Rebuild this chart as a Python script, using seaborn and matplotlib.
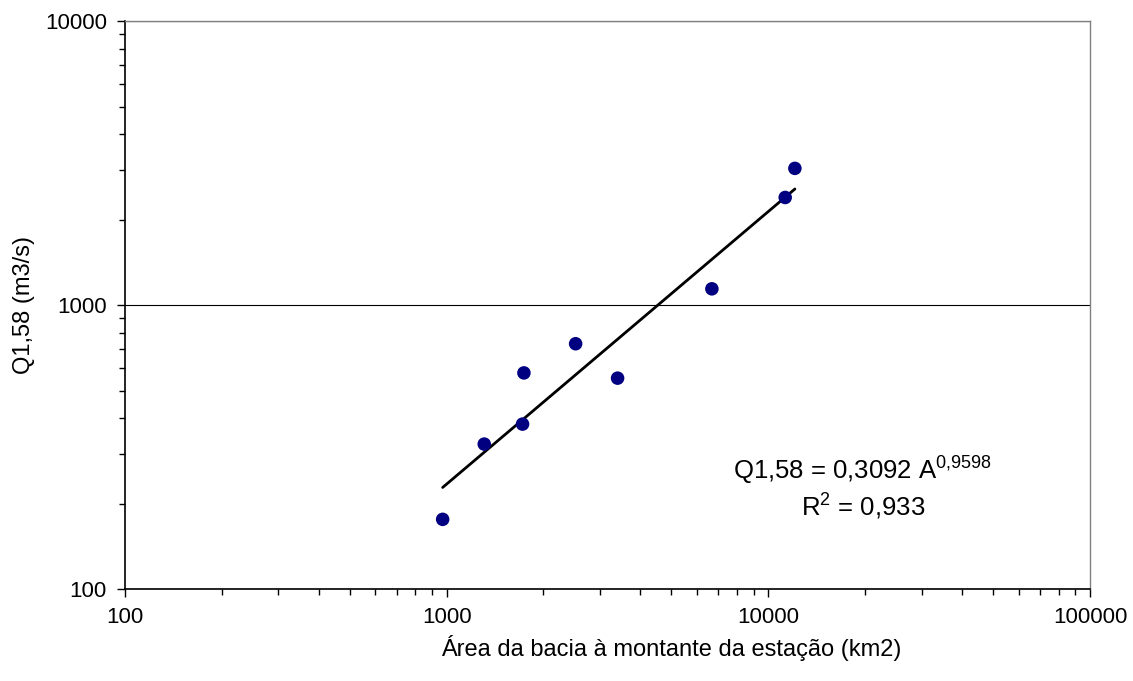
import matplotlib
matplotlib.use("Agg")
import matplotlib.pyplot as plt
import seaborn as sns
import numpy as np
import pandas as pd

# Drainage area (km2) and Q1,58 discharge (m3/s)
area = [972, 1309, 1722, 1739, 2518, 3400, 6678, 11287, 12097]
q158 = [176, 324, 381, 577, 731, 553, 1141, 2393, 3030]

# Power-law fit shown on the chart
coef = 0.3092
expo = 0.9598
r2 = 0.933

sns.set_style("ticks")
plt.rcParams['font.family'] = ['Liberation Sans', 'DejaVu Sans']
plt.rcParams['mathtext.fontset'] = 'custom'
plt.rcParams['mathtext.rm'] = 'Liberation Sans'
plt.rcParams['text.color'] = 'black'
plt.rcParams['axes.labelcolor'] = 'black'
plt.rcParams['xtick.color'] = 'black'
plt.rcParams['ytick.color'] = 'black'

df = pd.DataFrame({'area': area, 'q': q158})
fit_x = np.linspace(min(area), max(area), 50)
fit = pd.DataFrame({'area': fit_x, 'q': coef * fit_x ** expo})

fig = plt.figure(figsize=(11.33, 6.81), dpi=100)
ax = fig.add_axes([0.1103, 0.135, 0.8517, 0.834])

ax.set_xscale('log')
ax.set_yscale('log')
ax.set_xlim(100, 100000)
ax.set_ylim(100, 10000)

# gridline at major y ticks
ax.yaxis.grid(True, which='major', color='black', linewidth=0.8)
ax.set_axisbelow(True)

sns.lineplot(data=fit, x='area', y='q', ax=ax, color='black', linewidth=2, zorder=2)
sns.scatterplot(data=df, x='area', y='q', ax=ax, color='#000080', s=95,
                edgecolor='none', zorder=3)

fmt = matplotlib.ticker.FuncFormatter(lambda v, p: f'{v:.0f}')
ax.xaxis.set_major_formatter(fmt)
ax.yaxis.set_major_formatter(fmt)
ax.tick_params(axis='both', which='major', labelsize=16, length=6, width=1,
               direction='out', pad=7)
ax.tick_params(axis='both', which='minor', length=4, width=1, direction='out')

for side in ['left', 'bottom']:
    ax.spines[side].set_color('black')
    ax.spines[side].set_linewidth(1.2)
for side in ['top', 'right']:
    ax.spines[side].set_color('#808080')
    ax.spines[side].set_linewidth(1)

ax.set_xlabel('Área da bacia à montante da estação (km2)', fontsize=17, labelpad=5)
ax.xaxis.label.set_x(0.566)
ax.set_ylabel('Q1,58 (m3/s)', fontsize=17, labelpad=7)

ax.text(19680, 242, 'Q1,58 = 0,3092 A$\\mathregular{^{0{,}9598}}$', fontsize=18.5,
        ha='center', va='baseline')
ax.text(19680, 180.7, 'R$\\mathregular{^{2}}$ = 0,933', fontsize=18.5,
        ha='center', va='baseline')

fig.savefig('out.png', dpi=100, facecolor='white')
